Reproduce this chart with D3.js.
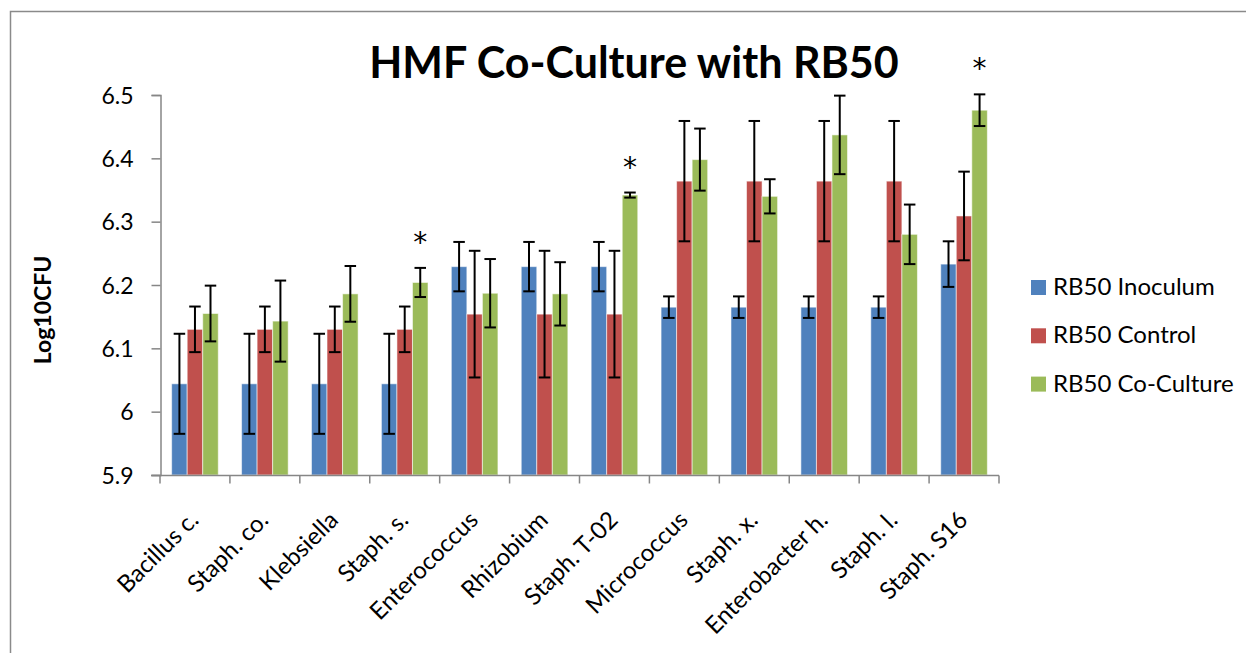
<!DOCTYPE html>
<html>
<head>
<meta charset="utf-8">
<script src="https://cdn.jsdelivr.net/npm/d3@7"></script>
<style>
  html, body { margin: 0; padding: 0; background: #fff; }
  svg { display: block; }
  text { font-family: Lato, "Open Sans", sans-serif; fill: #000; }
</style>
</head>
<body>
<svg id="chart" width="1246" height="653"></svg>
<script>
const categories = ["Bacillus c.", "Staph. co.", "Klebsiella", "Staph. s.", "Enterococcus", "Rhizobium", "Staph. T-02", "Micrococcus", "Staph. x.", "Enterobacter h.", "Staph. l.", "Staph. S16"];
const seriesNames = ["RB50 Inoculum", "RB50 Control", "RB50 Co-Culture"];
const inoculum     = [6.044, 6.044, 6.044, 6.044, 6.229, 6.229, 6.229, 6.165, 6.165, 6.165, 6.165, 6.233];
const inoculumErr  = [0.079, 0.079, 0.079, 0.079, 0.039, 0.039, 0.039, 0.017, 0.017, 0.017, 0.017, 0.036];
const control      = [6.130, 6.130, 6.130, 6.130, 6.154, 6.154, 6.154, 6.364, 6.364, 6.364, 6.364, 6.309];
const controlErr   = [0.036, 0.036, 0.036, 0.036, 0.100, 0.100, 0.100, 0.095, 0.095, 0.095, 0.095, 0.070];
const coculture    = [6.155, 6.143, 6.186, 6.204, 6.187, 6.186, 6.342, 6.398, 6.340, 6.437, 6.280, 6.476];
const cocultureErr = [0.044, 0.064, 0.044, 0.023, 0.054, 0.050, 0.004, 0.049, 0.027, 0.062, 0.047, 0.025];
const significant  = ["Staph. s.", "Staph. T-02", "Staph. S16"];
const yTicks = [5.9, 6.0, 6.1, 6.2, 6.3, 6.4, 6.5];
const colors = ["#4F81BD", "#C0504D", "#9BBB59"];

const values = [inoculum, control, coculture];
const errors = [inoculumErr, controlErr, cocultureErr];

const svg = d3.select("#chart");

// outer chart border (left + top)
svg.append("rect")
  .attr("x", 10.5).attr("y", 11.5)
  .attr("width", 1400).attr("height", 800)
  .attr("fill", "none").attr("stroke", "#8a8a8a").attr("stroke-width", 1.5);

const x0 = d3.scaleBand().domain(categories).range([160, 999]).paddingInner(0).paddingOuter(0);
const step = x0.step();
const barW = step / 4.5;           // Excel gap width 150%
const groupOffset = (step - 3 * barW) / 2;
const x1 = d3.scaleBand().domain(d3.range(3)).range([groupOffset, groupOffset + 3 * barW]).padding(0);
const y = d3.scaleLinear().domain([5.9, 6.5]).range([475, 95]);

// bars
const rows = categories.map((c, i) => ({ c, i }));
const groups = svg.append("g").selectAll("g").data(rows).join("g")
  .attr("transform", d => `translate(${x0(d.c)},0)`);

groups.selectAll("rect.bar").data(d => d3.range(3).map(s => ({ s, i: d.i })))
  .join("rect").attr("class", "bar")
  .attr("x", d => x1(d.s))
  .attr("y", d => y(values[d.s][d.i]))
  .attr("width", x1.bandwidth())
  .attr("height", d => y(5.9) - y(values[d.s][d.i]))
  .attr("fill", d => colors[d.s])
  .attr("stroke", "rgba(255,255,255,0.55)")
  .attr("stroke-width", 1);

// error bars
const capW = 11.5;
const eb = groups.selectAll("g.err").data(d => d3.range(3).map(s => ({ s, i: d.i })))
  .join("g").attr("class", "err")
  .attr("transform", d => `translate(${x1(d.s) + x1.bandwidth() / 2},0)`);
eb.append("line")
  .attr("x1", 0).attr("x2", 0)
  .attr("y1", d => y(values[d.s][d.i] + errors[d.s][d.i]))
  .attr("y2", d => y(values[d.s][d.i] - errors[d.s][d.i]))
  .attr("stroke", "#000").attr("stroke-width", 2);
eb.append("line")
  .attr("x1", -capW / 2).attr("x2", capW / 2)
  .attr("y1", d => y(values[d.s][d.i] + errors[d.s][d.i]))
  .attr("y2", d => y(values[d.s][d.i] + errors[d.s][d.i]))
  .attr("stroke", "#000").attr("stroke-width", 2);
eb.append("line")
  .attr("x1", -capW / 2).attr("x2", capW / 2)
  .attr("y1", d => y(values[d.s][d.i] - errors[d.s][d.i]))
  .attr("y2", d => y(values[d.s][d.i] - errors[d.s][d.i]))
  .attr("stroke", "#000").attr("stroke-width", 2);

// significance stars
svg.append("g").selectAll("text").data(significant).join("text")
  .attr("x", c => x0(c) + x1(2) + x1.bandwidth() / 2)
  .attr("y", c => { const i = categories.indexOf(c); return y(coculture[i] + cocultureErr[i]) - 32 + 16; })
  .attr("text-anchor", "middle")
  .style("font-family", "'DejaVu Sans', sans-serif")
  .style("font-size", "28px")
  .text("*");

// y axis
const yAxis = d3.axisLeft(y).tickValues(yTicks).tickSize(9).tickPadding(18)
  .tickFormat(d => String(+d.toFixed(1)));
const gy = svg.append("g").attr("transform", "translate(160.5,0)").call(yAxis);
gy.select(".domain").attr("stroke", "#868686").attr("stroke-width", 1.5);
gy.selectAll(".tick line").attr("stroke", "#868686").attr("stroke-width", 1.5);
gy.selectAll(".tick text").style("font-size", "23px").style("font-family", "Lato, sans-serif").attr("dy", "0.36em");

// x axis
const gx = svg.append("g").attr("transform", "translate(0,475.5)");
gx.append("line").attr("x1", 151).attr("x2", 999).attr("y1", 0).attr("y2", 0)
  .attr("stroke", "#868686").attr("stroke-width", 1.5);
const boundaries = categories.map(c => x0(c)).concat([x0.range()[1]]);
gx.selectAll("line.tk").data(boundaries).join("line").attr("class", "tk")
  .attr("x1", d => d).attr("x2", d => d).attr("y1", 0).attr("y2", 8)
  .attr("stroke", "#868686").attr("stroke-width", 1.5);
gx.selectAll("text").data(categories).join("text")
  .attr("transform", c => `translate(${x0(c) + step / 2 + 5},${46}) rotate(-45)`)
  .attr("text-anchor", "end")
  .style("font-size", "24px")
  .text(c => c);

// y label
svg.append("text")
  .attr("transform", "translate(51,310) rotate(-90)")
  .attr("text-anchor", "middle")
  .style("font-size", "23px").style("font-weight", "bold")
  .text("Log10CFU");

// title
svg.append("text")
  .attr("x", 634).attr("y", 78)
  .attr("text-anchor", "middle")
  .style("font-size", "43px").style("font-weight", "bold")
  .text("HMF Co-Culture with RB50");

// legend
const lg = svg.append("g").selectAll("g").data(seriesNames).join("g")
  .attr("transform", (d, i) => `translate(1031,${280 + i * 48.3})`);
lg.append("rect").attr("width", 15).attr("height", 15).attr("fill", (d, i) => colors[i]);
lg.append("text").attr("x", 22).attr("y", 15).style("font-size", "24px").text(d => d);
</script>
</body>
</html>
